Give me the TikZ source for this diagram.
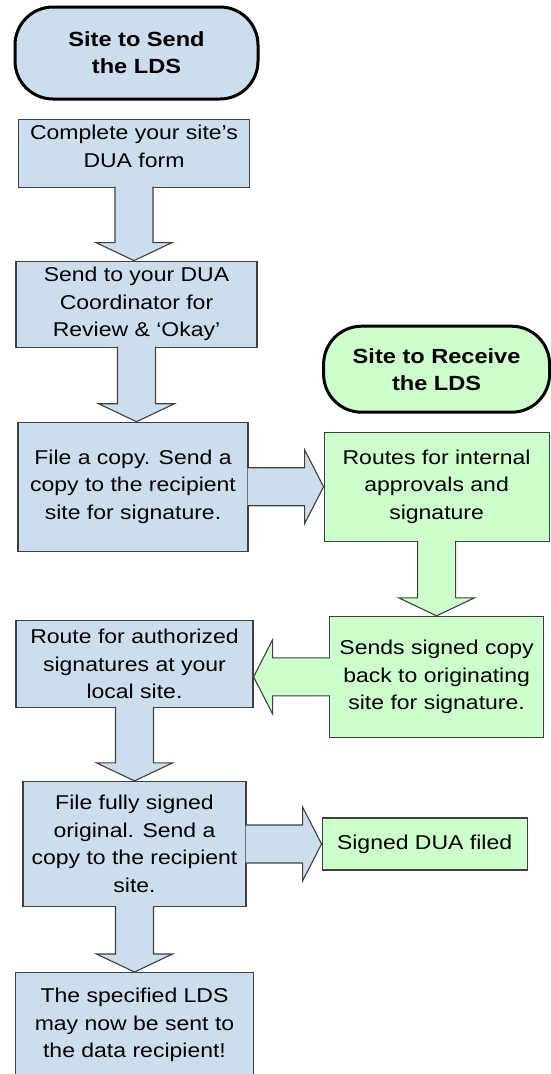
\documentclass[tikz,border=0pt]{standalone}
\usepackage{fontspec}
\setmainfont{Liberation Sans}[FakeStretch=1.15]
\usetikzlibrary{positioning, calc}

\definecolor{sendblue}{RGB}{204,221,238}
\definecolor{recvgreen}{RGB}{204,255,204}
\definecolor{edgegray}{RGB}{64,64,64}

% block arrows: #1 style, #2 from node, #3 to node
\newcommand{\blockdown}[3]{%
  \draw[#1] let \p1=(#2.south), \p2=(#3.north) in
    (\x1-19pt,\y1+1pt) -- (\x1-19pt,\y2+18pt) -- (\x1-38pt,\y2+18pt) -- (\x1,\y2)
    -- (\x1+38pt,\y2+18pt) -- (\x1+19pt,\y2+18pt) -- (\x1+19pt,\y1+1pt);}
\newcommand{\blockright}[3]{%
  \draw[#1] let \p1=(#2.east), \p2=(#3.west) in
    (\x1-1pt,\y1+19pt) -- (\x2-19pt,\y1+19pt) -- (\x2-19pt,\y1+37pt) -- (\x2,\y1)
    -- (\x2-19pt,\y1-37pt) -- (\x2-19pt,\y1-19pt) -- (\x1-1pt,\y1-19pt);}
\newcommand{\blockleft}[3]{%
  \draw[#1] let \p1=(#2.west), \p2=(#3.east) in
    (\x1+1pt,\y1+19pt) -- (\x2+19pt,\y1+19pt) -- (\x2+19pt,\y1+37pt) -- (\x2,\y1)
    -- (\x2+19pt,\y1-37pt) -- (\x2+19pt,\y1-19pt) -- (\x1+1pt,\y1-19pt);}

\begin{document}
\begin{tikzpicture}[
    every node/.style={font=\fontsize{20}{27.5}\selectfont},
    stepbox/.style={rectangle, draw=edgegray, line width=1.1pt, align=center, inner sep=0pt},
    sendbox/.style={stepbox, fill=sendblue},
    recvbox/.style={stepbox, fill=recvgreen},
    sitehead/.style={rectangle, draw=black, line width=3pt, rounded corners=38pt, align=center, inner sep=0pt, font=\fontsize{20.5}{27}\selectfont\bfseries},
    sendarrow/.style={draw=edgegray, line width=1.1pt, fill=sendblue},
    recvarrow/.style={draw=edgegray, line width=1.1pt, fill=recvgreen}
]
\useasboundingbox (0,0) rectangle (550pt,-1074pt);

% Sending site (left)
\node[sitehead, fill=sendblue, minimum width=243pt, minimum height=92pt] (sendhead) at (136.5pt,-53pt) {Site to Send\\the LDS};
\node[sendbox, minimum width=231pt, minimum height=68pt, text depth=14pt, below=18pt of sendhead, xshift=-2.5pt] (complete) {Complete your site’s\\DUA form};
\node[sendbox, minimum width=241pt, minimum height=86pt, below=73pt of complete, xshift=2.5pt] (coordinator) {Send to your DUA\\Coordinator for\\Review \& ‘Okay’};
\node[sendbox, minimum width=230pt, minimum height=129pt, below=74pt of coordinator, xshift=-3.5pt] (filecopy) {File a copy. Send a\\copy to the recipient\\site for signature.};
\node[sendbox, minimum width=237pt, minimum height=87pt, below=68pt of filecopy, xshift=1.5pt] (localsign) {Route for authorized\\signatures at your\\local site.};
\node[sendbox, minimum width=223pt, minimum height=125pt, below=73pt of localsign] (fullsign) {File fully signed\\original. Send a\\copy to the recipient\\site.};
\node[sendbox, minimum width=238pt, minimum height=105pt, below=65pt of fullsign] (sendlds) {The specified LDS\\may now be sent to\\the data recipient!};

% Receiving site (right)
\node[recvbox, minimum width=225pt, minimum height=109pt, right=75pt of filecopy] (approvals) {Routes for internal\\approvals and\\signature};
\node[sitehead, fill=recvgreen, minimum width=226pt, minimum height=86pt, above=18pt of approvals] (recvhead) {Site to Receive\\the LDS};
\node[recvbox, minimum width=214pt, minimum height=121pt, below=74pt of approvals] (signback) {Sends signed copy\\back to originating\\site for signature.};
\node[recvbox, minimum width=205pt, minimum height=52pt, right=75pt of fullsign] (filed) {Signed DUA filed};

% Arrows
\blockdown{sendarrow}{complete}{coordinator}
\blockdown{sendarrow}{coordinator}{filecopy}
\blockright{sendarrow}{filecopy}{approvals}
\blockdown{recvarrow}{approvals}{signback}
\blockleft{recvarrow}{signback}{localsign}
\blockdown{sendarrow}{localsign}{fullsign}
\blockright{sendarrow}{fullsign}{filed}
\blockdown{sendarrow}{fullsign}{sendlds}

\end{tikzpicture}
\end{document}
